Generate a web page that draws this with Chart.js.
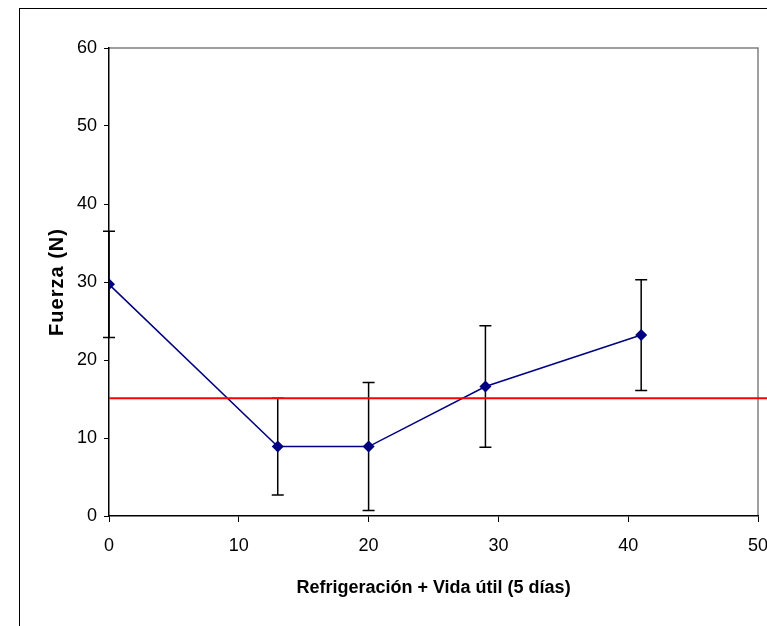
<!DOCTYPE html>
<html>
<head>
<meta charset="utf-8">
<script src="https://cdn.jsdelivr.net/npm/chart.js@4.4.1/dist/chart.umd.min.js"></script>
<style>
  html, body { margin: 0; padding: 0; background: #fff; }
  #wrap { width: 767px; height: 626px; }
</style>
</head>
<body>
<div id="wrap"><canvas id="fuerzaChart" width="767" height="626"></canvas></div>
<script>
// Data
const days = [0, 13, 20, 29, 41];
const fuerza = [29.7, 8.9, 8.9, 16.6, 23.2];
const fuerzaErr = [6.8, 6.2, 8.2, 7.8, 7.1];
const limitValue = 15.1;
const limitSpan = [0, 51];   // the red line runs past the plot edge

const FONT = '"Liberation Sans", Arial, sans-serif';

// Outer frame + gray top/right edge of the plot area
const framePlugin = {
    id: 'frame',
    beforeDraw(chart) {
        const { ctx, chartArea: a } = chart;
        ctx.save();
        ctx.strokeStyle = '#000';
        ctx.lineWidth = 1;
        ctx.strokeRect(19.5, 8.5, 900, 900);
        ctx.strokeStyle = '#808080';
        ctx.lineWidth = 1.5;
        ctx.beginPath();
        ctx.moveTo(a.left, a.top);
        ctx.lineTo(a.right, a.top);
        ctx.lineTo(a.right, a.bottom);
        ctx.stroke();
        ctx.restore();
    }
};

// Vertical error bars with caps
const errorBarPlugin = {
    id: 'errorBars',
    beforeDatasetsDraw(chart) {
        const { ctx, scales: { x, y } } = chart;
        ctx.save();
        ctx.strokeStyle = '#000';
        ctx.lineWidth = 1.5;
        days.forEach((d, i) => {
            const px = x.getPixelForValue(d);
            const top = y.getPixelForValue(fuerza[i] + fuerzaErr[i]);
            const bot = y.getPixelForValue(fuerza[i] - fuerzaErr[i]);
            ctx.beginPath();
            ctx.moveTo(px, top); ctx.lineTo(px, bot);
            ctx.moveTo(px - 6, top); ctx.lineTo(px + 6, top);
            ctx.moveTo(px - 6, bot); ctx.lineTo(px + 6, bot);
            ctx.stroke();
        });
        ctx.restore();
    }
};

new Chart(document.getElementById('fuerzaChart').getContext('2d'), {
    type: 'scatter',
    data: {
        datasets: [
            {
                label: 'Fuerza',
                data: days.map((d, i) => ({ x: d, y: fuerza[i] })),
                showLine: true,
                borderColor: '#000080',
                borderWidth: 1.5,
                backgroundColor: '#000080',
                pointStyle: 'rectRot',
                pointRadius: 6,
                pointBorderWidth: 0,
                order: 2
            },
            {
                label: 'Límite',
                data: limitSpan.map(v => ({ x: v, y: limitValue })),
                showLine: true,
                borderColor: '#FF0000',
                borderWidth: 2,
                pointRadius: 0,
                clip: false,
                order: 1
            }
        ]
    },
    options: {
        responsive: false,
        animation: false,
        layout: { padding: { top: 48, right: 9, left: 0, bottom: 0 } },
        plugins: {
            legend: { display: false },
            tooltip: { enabled: false }
        },
        scales: {
            x: {
                type: 'linear',
                min: 0, max: 50,
                afterFit: (s) => {
                    s.height = 110;
                    // let the "50" label hang off the edge like the original
                    s.paddingLeft = 0;
                    s.paddingRight = 0;
                },
                border: { color: '#000', width: 1.5 },
                grid: { drawOnChartArea: false, drawTicks: true, tickLength: 6, color: '#000' },
                ticks: { stepSize: 10, padding: 13, color: '#000', font: { family: FONT, size: 18 } },
                title: {
                    display: true,
                    text: 'Refrigeración + Vida útil (5 días)',
                    color: '#000',
                    font: { family: FONT, size: 18, weight: 'bold' },
                    padding: { top: 0, bottom: 27 }
                }
            },
            y: {
                min: 0, max: 60,
                afterFit: (s) => {
                    s.width = 109;
                    // spaced-out letters in the axis title
                    if (!s._spacedTitle) {
                        const orig = s.drawTitle;
                        s.drawTitle = function () {
                            this.ctx.letterSpacing = '1px';
                            orig.apply(this, arguments);
                            this.ctx.letterSpacing = '0px';
                        };
                        s._spacedTitle = true;
                    }
                },
                border: { color: '#000', width: 1.5 },
                grid: { drawOnChartArea: false, drawTicks: true, tickLength: 5, color: '#000' },
                ticks: { stepSize: 10, padding: 7, color: '#000', font: { family: FONT, size: 18 } },
                title: {
                    display: true,
                    text: 'Fuerza (N)',
                    color: '#000',
                    font: { family: FONT, size: 20, weight: 'bold' },
                    padding: { top: 45, bottom: 0 }
                }
            }
        }
    },
    plugins: [framePlugin, errorBarPlugin]
});
</script>
</body>
</html>
